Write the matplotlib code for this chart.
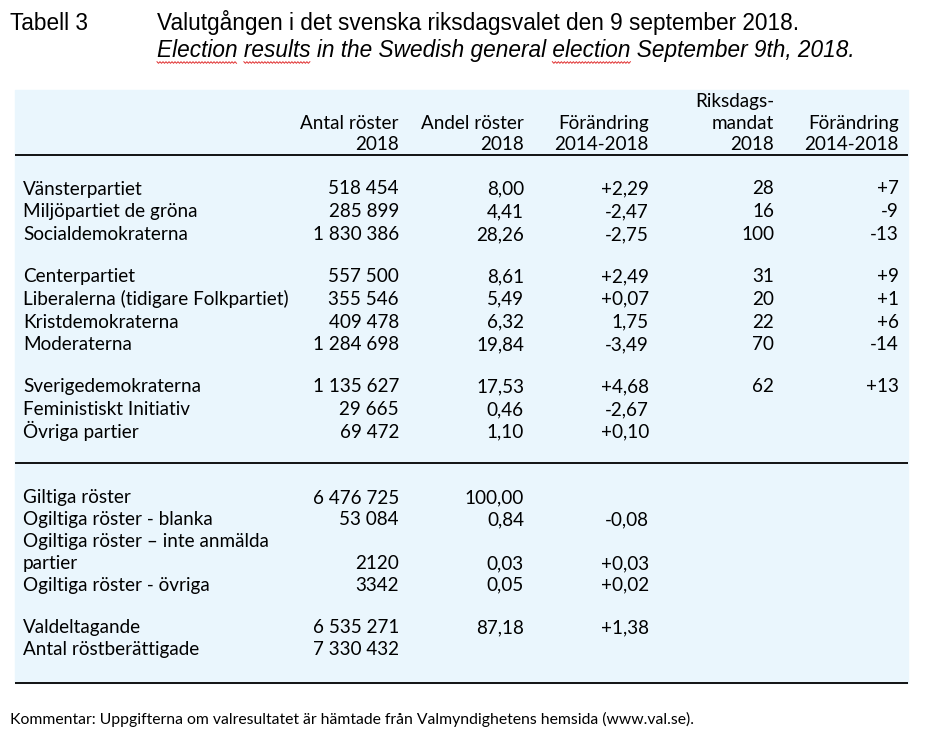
import matplotlib
matplotlib.use("Agg")
import matplotlib.pyplot as plt
from matplotlib.patches import Rectangle
import numpy as np

# Tabell 3 - valresultat riksdagsvalet 2018
titel_nr = "Tabell 3"
titel_sv = "Valutgången i det svenska riksdagsvalet den 9 september 2018."
titel_en = "Election results in the Swedish general election September 9th, 2018."
understrukna = ["Election", "results", "election"]  # stavningskontrollens röda vågor

kolumner = [("", "Antal röster", "2018"),
            ("", "Andel röster", "2018"),
            ("", "Förändring", "2014-2018"),
            ("Riksdags-", "mandat", "2018"),
            ("", "Förändring", "2014-2018")]

# partier i tre grupper
partier = [["Vänsterpartiet", "Miljöpartiet de gröna", "Socialdemokraterna"],
           ["Centerpartiet", "Liberalerna (tidigare Folkpartiet)", "Kristdemokraterna", "Moderaterna"],
           ["Sverigedemokraterna", "Feministiskt Initiativ", "Övriga partier"]]
antal_roster = ["518 454", "285 899", "1 830 386", "557 500", "355 546", "409 478",
                "1 284 698", "1 135 627", "29 665", "69 472"]
andel_roster = ["8,00", "4,41", "28,26", "8,61", "5,49", "6,32", "19,84", "17,53", "0,46", "1,10"]
forandring = ["+2,29", "-2,47", "-2,75", "+2,49", "+0,07", "1,75", "-3,49", "+4,68", "-2,67", "+0,10"]
mandat = ["28", "16", "100", "31", "20", "22", "70", "62", "", ""]
mandat_forandring = ["+7", "-9", "-13", "+9", "+1", "+6", "-14", "+13", "", ""]

# nedre delen
ovriga = [["Giltiga röster", "Ogiltiga röster - blanka", "Ogiltiga röster \u2013 inte anmälda\npartier",
           "Ogiltiga röster - övriga"],
          ["Valdeltagande", "Antal röstberättigade"]]
ovriga_antal = ["6 476 725", "53 084", "2120", "3342", "6 535 271", "7 330 432"]
ovriga_andel = ["100,00", "0,84", "0,03", "0,05", "87,18", ""]
ovriga_forandring = ["", "-0,08", "+0,03", "+0,02", "+1,38", ""]

kommentar = "Kommentar: Uppgifterna om valresultatet är hämtade från Valmyndighetens hemsida (www.val.se)."

W, H = 927, 733
fig = plt.figure(figsize=(W / 100, H / 100), dpi=100)
ax = fig.add_axes([0, 0, 1, 1])
ax.set_xlim(0, W)
ax.set_ylim(H, 0)
ax.axis("off")

bg = "#eaf6fd"
tabell_font = "Lato"
fs = 13.6
titel_fs = 16.3
vanster, hoger = 15, 908
etikett_x = 23
kol_x = [399, 524, 649, 774, 899]
bas = 6.5  # från radens mitt till baslinjen

# titel
ax.text(10, 30, titel_nr, fontsize=titel_fs, family="Liberation Sans", va="baseline")
ax.text(157, 30, titel_sv, fontsize=titel_fs, family="Liberation Sans", va="baseline")
t_en = ax.text(157, 57, titel_en, fontsize=titel_fs, family="Liberation Sans", style="italic",
               va="baseline")

# bakgrund och linjer
ax.add_patch(Rectangle((vanster, 90), hoger - vanster, 683 - 90, color=bg, zorder=0))
for y in [155, 463, 683]:
    ax.plot([vanster, hoger], [y, y], color="black", lw=1.3, solid_capstyle="butt")

# kolumnrubriker
for x, rubrik in zip(kol_x, kolumner):
    for i, s in enumerate(rubrik):
        if s:
            ax.text(x, 101 + i * 21.5 + bas, s, fontsize=fs, family=tabell_font, ha="right",
                    va="baseline")


def skriv_rad(y, etikett, varden):
    ax.text(etikett_x, y + bas, etikett, fontsize=fs, family=tabell_font, va="baseline")
    for x, v in zip(kol_x, varden):
        if v:
            ax.text(x, y + bas, v, fontsize=fs, family=tabell_font, ha="right", va="baseline")


y = 188
k = 0
for grupp in partier:
    for namn in grupp:
        skriv_rad(y, namn, [antal_roster[k], andel_roster[k], forandring[k], mandat[k], mandat_forandring[k]])
        k += 1
        y += 22.8
    y += 19

y = 497
k = 0
for grupp in ovriga:
    for namn in grupp:
        delar = namn.split("\n")
        for d in delar[:-1]:
            skriv_rad(y, d, [])
            y += 21.8
        skriv_rad(y, delar[-1], [ovriga_antal[k], ovriga_andel[k], ovriga_forandring[k]])
        k += 1
        y += 21.8
    y += 21

ax.text(10, 724, kommentar, fontsize=11.3, family=tabell_font, va="baseline")

# röda vågor under felstavade ord
fig.canvas.draw()
r = fig.canvas.get_renderer()
inv = ax.transData.inverted()
x0_disp = t_en.get_window_extent(r).x0
for ord_ in understrukna:
    start = titel_en.find(ord_)
    if ord_ == "election":
        start = titel_en.find(ord_, titel_en.find("general"))
    tmp = ax.text(0, 0, titel_en[:start], fontsize=titel_fs, family="Liberation Sans", style="italic")
    w_pre = tmp.get_window_extent(r).width if start else 0
    tmp.set_text(titel_en[:start + len(ord_)])
    w_end = tmp.get_window_extent(r).width
    tmp.remove()
    xa = inv.transform((x0_disp + w_pre, 0))[0]
    xb = inv.transform((x0_disp + w_end, 0))[0]
    xs = np.arange(xa, xb, 1.5)
    ys = 62.5 + np.where(np.arange(len(xs)) % 2 == 0, -0.8, 0.8)
    ax.plot(xs, ys, color="#e03030", lw=0.7)

fig.savefig("out.png", dpi=100)
